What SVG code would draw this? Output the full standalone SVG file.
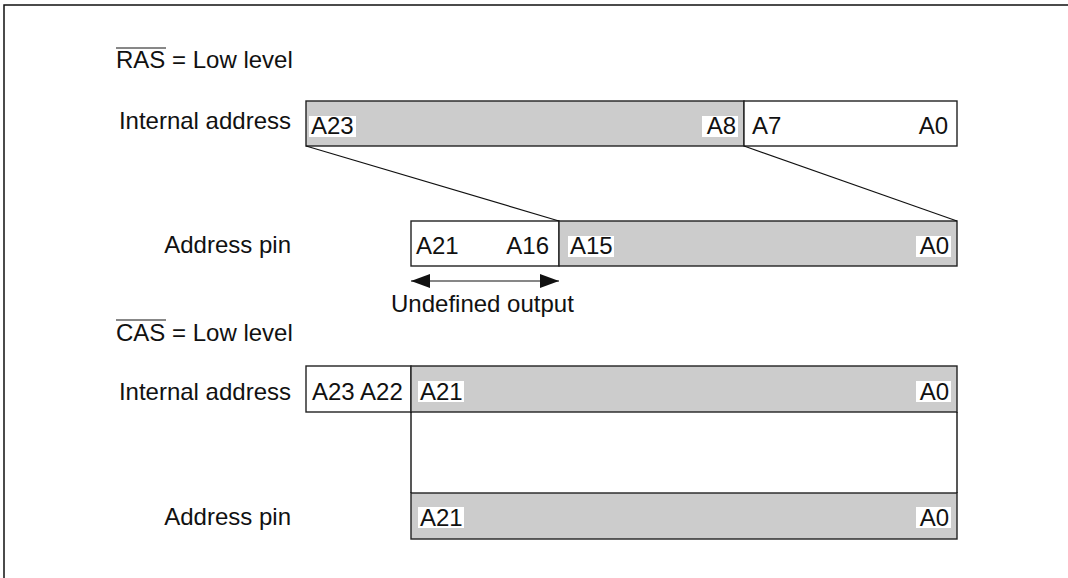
<svg xmlns="http://www.w3.org/2000/svg" width="1068" height="578" viewBox="0 0 1068 578">
<style>
text{font-family:"Liberation Sans",Arial,sans-serif;font-size:24px;fill:#111}
.e{text-anchor:end}
.g{fill:#cccccc;stroke:#222;stroke-width:1.4}
.w{fill:#ffffff;stroke:#222;stroke-width:1.4}
.bg{fill:#ffffff;stroke:none}
.ln{stroke:#111;stroke-width:1.2;fill:none}
</style>
<defs>
<marker id="ah" viewBox="0 0 19 14" refX="19" refY="7" markerWidth="19" markerHeight="14" markerUnits="userSpaceOnUse" orient="auto-start-reverse">
<path d="M0,0 L19,7 L0,14 Z" fill="#111"/>
</marker>
</defs>
<g id="frame"><path class="ln" d="M4,578 L4,5 L1068,5" style="stroke-width:1.5"/></g>

<g id="ras-title">
<text x="116" y="68">RAS = Low level</text>
<line class="ln" x1="116" y1="48" x2="166" y2="48" style="stroke-width:1"/>
</g>

<g id="ras-internal">
<text class="e" x="291" y="129">Internal address</text>
<rect class="g" x="306" y="101" width="438" height="45"/>
<rect class="w" x="744" y="101" width="213" height="45"/>
<rect class="bg" x="309" y="116" width="47" height="21"/>
<text x="311" y="133.5">A23</text>
<rect class="bg" x="702" y="116" width="36" height="21"/>
<text class="e" x="736" y="133.5">A8</text>
<text x="752" y="133.5">A7</text>
<text class="e" x="948" y="133.5">A0</text>
</g>

<g id="ras-pin">
<text class="e" x="291" y="253">Address pin</text>
<rect class="w" x="411" y="221" width="148" height="45"/>
<rect class="g" x="559" y="221" width="398" height="45"/>
<text x="416" y="254">A21</text>
<text class="e" x="549" y="254">A16</text>
<rect class="bg" x="568" y="236" width="46" height="21"/>
<text x="570" y="254">A15</text>
<rect class="bg" x="916" y="236" width="35" height="21"/>
<text class="e" x="949" y="254">A0</text>
</g>

<g id="undefined">
<text x="391" y="312">Undefined output</text>
</g>

<g id="cas-title">
<text x="116" y="340.5">CAS = Low level</text>
<line class="ln" x1="116" y1="320" x2="166" y2="320" style="stroke-width:1"/>
</g>

<g id="cas-internal">
<text class="e" x="291" y="400">Internal address</text>
<rect class="w" x="306" y="366" width="105" height="46"/>
<rect class="g" x="411" y="366" width="546" height="46"/>
<text x="312" y="399.5">A23 A22</text>
<rect class="bg" x="418" y="381" width="46" height="21"/>
<text x="420" y="399.5">A21</text>
<rect class="bg" x="916" y="381" width="35" height="21"/>
<text class="e" x="949" y="399.5">A0</text>
</g>

<g id="cas-pin">
<text class="e" x="291" y="525">Address pin</text>
<rect class="g" x="411" y="493" width="546" height="46"/>
<rect class="bg" x="418" y="507" width="46" height="21"/>
<text x="420" y="526">A21</text>
<rect class="bg" x="916" y="507" width="35" height="21"/>
<text class="e" x="949" y="526">A0</text>
</g>

<g id="connectors">
<line class="ln" x1="306" y1="146" x2="559" y2="221"/>
<line class="ln" x1="744" y1="146" x2="957" y2="221"/>
<line class="ln" x1="411" y1="281" x2="559" y2="281" marker-start="url(#ah)" marker-end="url(#ah)"/>
<line class="ln" x1="411" y1="412" x2="411" y2="493" style="stroke-width:1.4"/>
<line class="ln" x1="957" y1="412" x2="957" y2="493" style="stroke-width:1.4"/>
</g>
</svg>
